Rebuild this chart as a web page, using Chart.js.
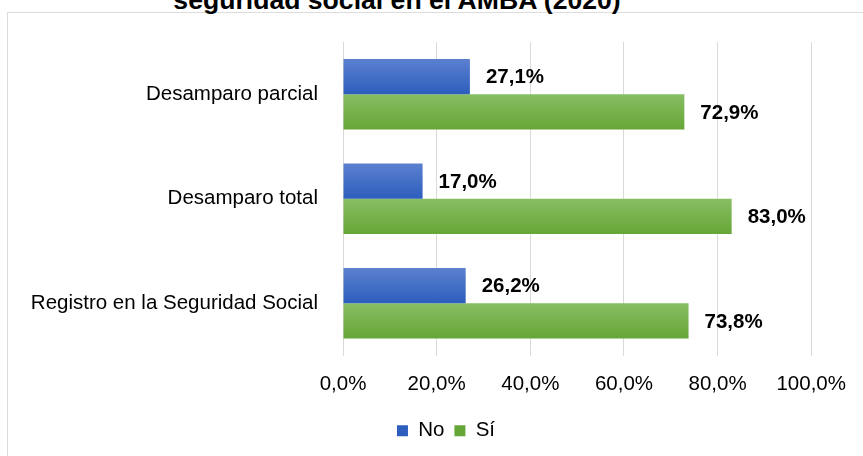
<!DOCTYPE html>
<html>
<head>
<meta charset="utf-8">
<script src="https://cdn.jsdelivr.net/npm/chart.js@4"></script>
<style>
  body { margin: 0; background: #fff; }
  #wrap { position: relative; width: 863px; height: 456px; overflow: hidden; }
  #frame { position: absolute; left: 7px; top: 12px; width: 900px; height: 500px; border: 1px solid #dcdcdc; }
  #title { position: absolute; left: 0; width: 794px; top: -13px; text-align: center; white-space: nowrap;
           font: bold 26.6px "Liberation Sans", Arial, sans-serif; line-height: 1; color: #000; }
  canvas { position: absolute; left: 0; top: 0; }
</style>
</head>
<body>
<div id="wrap">
  <div id="frame"></div>
  <div id="title">seguridad social en el AMBA (2020)</div>
  <canvas id="chart" width="863" height="456"></canvas>
</div>
<script>
const categorias = ['Desamparo parcial', 'Desamparo total', 'Registro en la Seguridad Social'];
const valoresNo = [27.1, 17.0, 26.2];
const valoresSi = [72.9, 83.0, 73.8];
const ticksX = [0, 20, 40, 60, 80, 100];

const FONT = '"Liberation Sans", Arial, sans-serif';
const CAT_PCT = 0.675;

function fmt(v) {
  return v.toFixed(1).replace('.', ',') + '%';
}

// gradiente vertical por barra, calculado desde la escala y
function gradiente(colTop, colBottom, solido, posicion) {
  return function(c) {
    const chart = c.chart;
    const y = chart.scales.y;
    if (c.type !== 'data' || !y || !chart.chartArea) return solido;
    const centro = y.getPixelForValue(c.dataIndex);
    const banda = chart.chartArea.height / categorias.length;
    const grosor = banda * CAT_PCT / 2;
    const top = posicion === 0 ? centro - grosor : centro;
    const g = chart.ctx.createLinearGradient(0, top, 0, top + grosor);
    g.addColorStop(0, colTop);
    g.addColorStop(1, colBottom);
    return g;
  };
}

const etiquetas = {
  id: 'etiquetas',
  afterDatasetsDraw(chart) {
    const ctx = chart.ctx;
    ctx.save();
    ctx.font = 'bold 20.5px ' + FONT;
    ctx.fillStyle = '#000';
    ctx.textBaseline = 'middle';
    ctx.textAlign = 'left';
    chart.data.datasets.forEach((ds, i) => {
      chart.getDatasetMeta(i).data.forEach((bar, j) => {
        ctx.fillText(fmt(ds.data[j]), bar.x + 16, bar.y + 1);
      });
    });
    ctx.restore();
  }
};

const chart = new Chart(document.getElementById('chart'), {
  type: 'bar',
  data: {
    labels: categorias,
    datasets: [
      {
        label: 'No',
        data: valoresNo,
        backgroundColor: gradiente('#5b80cf', '#2d5ebd', '#3f6cc6', 0)
      },
      {
        label: 'Sí',
        data: valoresSi,
        backgroundColor: gradiente('#88be64', '#66a636', '#74b14a', 1)
      }
    ]
  },
  options: {
    indexAxis: 'y',
    responsive: false,
    animation: false,
    devicePixelRatio: 1,
    categoryPercentage: CAT_PCT,
    barPercentage: 1,
    layout: {
      padding: { top: 42, right: 0, left: 29, bottom: 5 }
    },
    plugins: {
      legend: {
        position: 'bottom',
        labels: {
          boxWidth: 11,
          boxHeight: 11,
          padding: 10,
          color: '#000',
          font: { family: FONT, size: 20.5 }
        }
      },
      tooltip: { enabled: false }
    },
    scales: {
      x: {
        min: 0,
        max: 100,
        afterBuildTicks: function(scale) {
          scale.ticks = ticksX.map(v => ({ value: v }));
        },
        afterFit: function(scale) {
          scale.height = 55;
        },
        grid: { color: '#d9d9d9', drawTicks: false },
        border: { display: false },
        ticks: {
          padding: 17,
          color: '#000',
          font: { family: FONT, size: 20.5 },
          callback: v => fmt(v)
        }
      },
      y: {
        afterFit: function(scale) {
          scale.width = 314;
        },
        grid: { display: false, drawTicks: false },
        border: { color: '#d9d9d9' },
        ticks: {
          padding: 25,
          color: '#000',
          font: { family: FONT, size: 20.5 }
        }
      },
      // eje vacío a la derecha, solo reserva el margen
      margen: {
        type: 'category',
        position: 'right',
        afterFit: function(scale) {
          scale.width = 51;
        },
        grid: { display: false, drawTicks: false },
        border: { display: false },
        ticks: { display: false }
      }
    }
  },
  plugins: [etiquetas]
});
</script>
</body>
</html>
